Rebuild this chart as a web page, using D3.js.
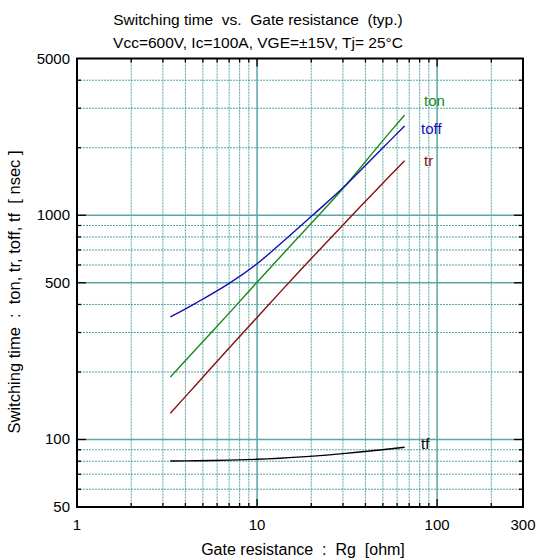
<!DOCTYPE html>
<html><head><meta charset="utf-8">
<script src="https://cdn.jsdelivr.net/npm/d3@7"></script>
<style>body{margin:0;background:#fff}svg text{font-family:"Liberation Sans",Arial,sans-serif;white-space:pre}</style>
</head><body><svg id="c" width="539" height="560"></svg>
<script>
const rg   = [3.3, 4.6, 7, 10, 13.4, 20.5, 30, 48, 66];
const ton  = [190, 254, 366, 503, 650, 940, 1315, 2070, 2800];
const toff = [352, 407, 497, 608, 742, 1005, 1325, 1935, 2500];
const tr   = [131, 176, 256, 350, 453, 654, 905, 1344, 1751];
const tf   = [80.2, 80.4, 80.9, 81.6, 82.5, 84.3, 86.5, 89.8, 92.3];
const seriesNames = ["ton", "toff", "tr", "tf"];
const xTickLabels = [1, 10, 100, 300];
const yTickLabels = [50, 100, 500, 1000, 5000];
const xMinor = [2,3,4,5,6,7,8,9,20,30,40,50,60,70,80,90,200];
const yMinor = [60,70,80,90,200,300,400,600,700,800,900,2000,3000,4000];
const xMajor = [10,100];
const yMajor = [100,500,1000];

const L=77, R=523, T=58.5, B=507;
const x = d3.scaleLog().domain([1,300]).range([L,R]);
const y = d3.scaleLog().domain([50,5000]).range([B,T]);
const svg = d3.select("#c");
const grid = svg.append("g");
const teal = "#2b8f8f";
grid.selectAll(".vm").data(xMinor).join("line")
  .attr("x1",d=>x(d)).attr("x2",d=>x(d)).attr("y1",T).attr("y2",B)
  .attr("stroke",teal).attr("stroke-width",1).attr("stroke-dasharray","2,1").attr("opacity",0.8);
grid.selectAll(".hm").data(yMinor).join("line")
  .attr("y1",d=>y(d)).attr("y2",d=>y(d)).attr("x1",L).attr("x2",R)
  .attr("stroke",teal).attr("stroke-width",1).attr("stroke-dasharray","2,1").attr("opacity",0.8);
grid.selectAll(".vM").data(xMajor).join("line")
  .attr("x1",d=>x(d)).attr("x2",d=>x(d)).attr("y1",T).attr("y2",B)
  .attr("stroke","#5aa5a5").attr("stroke-width",1.5);
grid.selectAll(".hM").data(yMajor).join("line")
  .attr("y1",d=>y(d)).attr("y2",d=>y(d)).attr("x1",L).attr("x2",R)
  .attr("stroke","#5aa5a5").attr("stroke-width",1.5);

// ticks
const tk = svg.append("g").attr("stroke","#000").attr("stroke-width",1.3);
xMinor.concat(xMajor).forEach(d=>{
  const len = xMajor.includes(d)?8:4;
  tk.append("line").attr("x1",x(d)).attr("x2",x(d)).attr("y1",B).attr("y2",B-len);
  tk.append("line").attr("x1",x(d)).attr("x2",x(d)).attr("y1",T).attr("y2",T+len);
});
yMinor.concat(yMajor).forEach(d=>{
  const len = yMajor.includes(d)?9:4;
  tk.append("line").attr("y1",y(d)).attr("y2",y(d)).attr("x1",L).attr("x2",L+len);
  tk.append("line").attr("y1",y(d)).attr("y2",y(d)).attr("x1",R).attr("x2",R-len);
});
svg.append("rect").attr("x",L).attr("y",T).attr("width",R-L).attr("height",B-T)
  .attr("fill","none").attr("stroke","#000").attr("stroke-width",2);

// curves
const colors = {ton:"#1a8a1a", toff:"#1010b0", tr:"#8b1010", tf:"#000000"};
const data = {ton, toff, tr, tf};
const line = d3.line().x((d,i)=>x(rg[i])).y(d=>y(d)).curve(d3.curveCatmullRom.alpha(0.5));
seriesNames.forEach(n=>{
  svg.append("path").attr("d",line(data[n])).attr("fill","none")
    .attr("stroke",colors[n]).attr("stroke-width",1.4);
});
const lab = [["ton",424,106],["toff",421,134],["tr",424,166],["tf",421,449]];
lab.forEach(([n,lx,ly])=>{
  svg.append("text").attr("x",lx).attr("y",ly).attr("fill",colors[n]).attr("font-size",15).text(n);
});

// tick labels
svg.selectAll(".yl").data(yTickLabels).join("text")
  .attr("x",70).attr("y",d=>y(d)+5).attr("text-anchor","end").attr("font-size",15).text(d=>d);
svg.selectAll(".xl").data(xTickLabels).join("text")
  .attr("x",d=>x(d)).attr("y",530).attr("text-anchor","middle").attr("font-size",15).text(d=>d);

// titles
svg.append("text").attr("x",258).attr("y",25).attr("text-anchor","middle").attr("font-size",15.5)
  .text("Switching time  vs.  Gate resistance  (typ.)");
svg.append("text").attr("x",258).attr("y",48).attr("text-anchor","middle").attr("font-size",15.5)
  .text("Vcc=600V, Ic=100A, VGE=±15V, Tj= 25°C");
svg.append("text").attr("x",303).attr("y",555).attr("text-anchor","middle").attr("font-size",16)
  .text("Gate resistance  :  Rg  [ohm]");
svg.append("text").attr("transform","translate(20,292) rotate(-90)").attr("text-anchor","middle").attr("font-size",16.5)
  .text("Switching time  :  ton, tr, toff, tf  [ nsec ]");
</script></body></html>
